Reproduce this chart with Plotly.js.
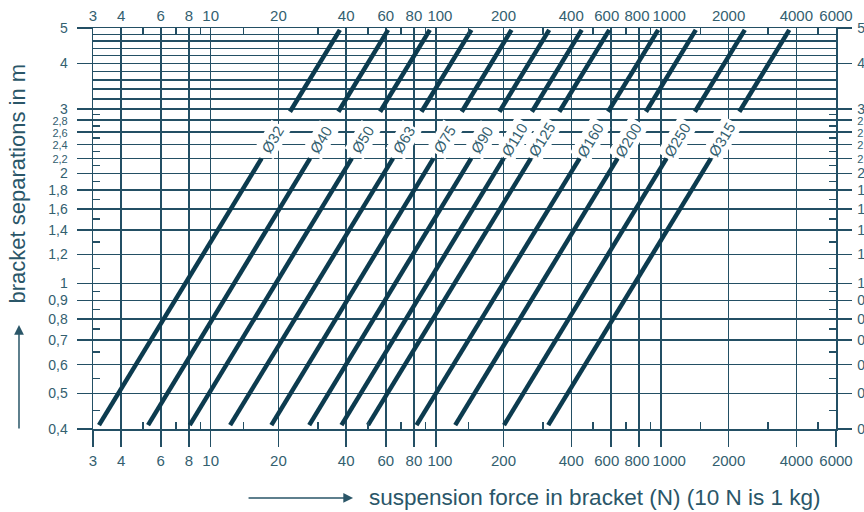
<!DOCTYPE html>
<html>
<head>
<meta charset="utf-8">
<script src="https://cdn.plot.ly/plotly-3.0.1.min.js"></script>
<style>html,body{margin:0;padding:0;background:#fff}#chart{width:864px;height:512px}</style>
</head>
<body>
<div id="chart"></div>
<script>
// ---- data ----
const diameters = ['Ø32','Ø40','Ø50','Ø63','Ø75','Ø90','Ø110','Ø125','Ø160','Ø200','Ø250','Ø315'];
// suspension force (N) where each line starts (bottom, at sepStart) and ends (top, at sepEnd)
const forceAtStart = [3.19, 5.27, 8.07, 12.2, 18.6, 27.4, 38.1, 50, 82.1, 122, 201, 316];
const forceAtEnd   = [37.5, 61.4, 94.1, 144, 217, 319, 445, 590, 973, 1430, 2360, 3720];
const sepStart = 0.41;   // m
const sepEnd = 4.94;     // m
const gapLow = 2.2;      // line interrupted between these separations (label band)
const gapHigh = 2.95;
const labelSep = 2.47;   // separation at which the labels sit

const xMajor = [3,4,6,8,10,20,40,60,80,100,200,400,600,800,1000,2000,4000,6000];
const NB = '&nbsp;';
const xMajorText = ['3','4','6','8','10','20','40','60','80', NB+NB+'100','200','400',
  '600'+NB+NB, '800'+NB, NB+NB+NB+NB+'1000','2000','4000','6000'];
const xMinor = [5,7,9,14,30,50,70,90,140,300,500,700,900,1500,3000,5000];

const yMajor = [0.4,0.5,0.6,0.7,0.8,0.9,1,1.2,1.4,1.6,1.8,2,2.2,2.4,2.6,2.8,3,4,5];
const small = s => '<span style="font-size:11px">' + s + '</span>';
const yMajorText = ['0,4','0,5','0,6','0,7','0,8','0,9','1','1,2','1,4','1,6','1,8','2',
  small('2,2'), small('2,4'), small('2,6'), small('2,8'), '3','4','5'];
const yExtraGrid = [3.2,3.4,3.6,3.8,4.2,4.4,4.6,4.8];
const yMinor = [0.45,0.55,0.65,0.75,0.85,0.95,1.1,1.3,1.5,1.7,1.9,2.1,2.3,2.5,2.7,2.9];

// ---- styling ----
const GRID = '#234f64';
const LINE = '#0c3b4f';
const TXT = '#33606f';
const FONT = 'Liberation Sans, Arial, Helvetica, sans-serif';

function forceAt(i, s) {
  const a = Math.log(sepStart), b = Math.log(sepEnd);
  const t = (Math.log(s) - a) / (b - a);
  return Math.exp(Math.log(forceAtStart[i]) + t * (Math.log(forceAtEnd[i]) - Math.log(forceAtStart[i])));
}

const traces = diameters.map((d, i) => ({
  type: 'scatter', mode: 'lines', name: d,
  x: [forceAt(i, sepStart), forceAt(i, gapLow), null, forceAt(i, gapHigh), forceAt(i, sepEnd)],
  y: [sepStart, gapLow, null, gapHigh, sepEnd],
  line: {color: LINE, width: 4.5},
  hoverinfo: 'skip', showlegend: false, xaxis: 'x', yaxis: 'y', connectgaps: false
}));
// transparent copies so the mirrored axes (top, right, extra grid) are drawn
traces.push(Object.assign({}, traces[0], {xaxis: 'x2', yaxis: 'y2', opacity: 0, name: 'top/right axes'}));
traces.push(Object.assign({}, traces[0], {xaxis: 'x', yaxis: 'y3', opacity: 0, name: 'extra grid'}));

const labels = diameters.map((d, i) => ({
  x: Math.log10(forceAt(i, labelSep)), y: Math.log10(labelSep), xref: 'x', yref: 'y',
  text: d, showarrow: false, textangle: -59,
  font: {family: FONT, size: 15, color: TXT},
  bgcolor: '#ffffff', borderpad: 2
}));

const tickFontX = {family: FONT, size: 15, color: TXT};
const tickFontY = {family: FONT, size: 14, color: TXT};
const xr = [Math.log10(3), Math.log10(6000)];
const yr = [Math.log10(0.4), Math.log10(5)];

const layout = {
  width: 864, height: 512,
  margin: {l: 93, r: 28, t: 28, b: 83, pad: 0},
  paper_bgcolor: '#ffffff', plot_bgcolor: '#ffffff',
  showlegend: false,
  xaxis: {
    type: 'log', range: xr, fixedrange: true, automargin: false, tickangle: 0,
    tickmode: 'array', tickvals: xMajor, ticktext: xMajorText,
    ticks: 'outside', ticklen: 16, tickwidth: 1.5, tickcolor: GRID,
    showgrid: true, gridcolor: GRID, gridwidth: 1.5,
    showline: true, linecolor: GRID, linewidth: 1.5,
    zeroline: false, tickfont: tickFontX, ticklabelstandoff: 1,
    minor: {tickmode: 'array', tickvals: xMinor, ticks: 'inside', ticklen: 7, tickwidth: 1.5, tickcolor: GRID, showgrid: false}
  },
  xaxis2: {
    type: 'log', range: xr, overlaying: 'x', side: 'top', anchor: 'y', fixedrange: true, automargin: false, tickangle: 0,
    tickmode: 'array', tickvals: xMajor, ticktext: xMajorText,
    ticks: '', showgrid: false, showline: true, linecolor: GRID, linewidth: 1.5,
    zeroline: false, tickfont: tickFontX, ticklabelstandoff: 0,
    minor: {tickmode: 'array', tickvals: xMinor, ticks: 'inside', ticklen: 7, tickwidth: 1.5, tickcolor: GRID, showgrid: false}
  },
  yaxis: {
    type: 'log', range: yr, fixedrange: true, automargin: false,
    tickmode: 'array', tickvals: yMajor, ticktext: yMajorText,
    ticks: 'outside', ticklen: 15, tickwidth: 1.5, tickcolor: GRID,
    showgrid: true, gridcolor: GRID, gridwidth: 1.5,
    showline: true, linecolor: GRID, linewidth: 1.5,
    zeroline: false, tickfont: tickFontY, ticklabelstandoff: 6,
    minor: {tickmode: 'array', tickvals: yMinor, ticks: 'inside', ticklen: 7, tickwidth: 1.5, tickcolor: GRID, showgrid: false}
  },
  yaxis2: {
    type: 'log', range: yr, overlaying: 'y', side: 'right', anchor: 'x', fixedrange: true, automargin: false,
    tickmode: 'array', tickvals: yMajor, ticktext: yMajorText,
    ticks: 'outside', ticklen: 14, tickwidth: 1.5, tickcolor: GRID,
    showgrid: false, showline: true, linecolor: GRID, linewidth: 1.5,
    zeroline: false, tickfont: tickFontY, ticklabelstandoff: 3,
    minor: {tickmode: 'array', tickvals: yMinor, ticks: 'inside', ticklen: 7, tickwidth: 1.5, tickcolor: GRID, showgrid: false}
  },
  yaxis3: {
    type: 'log', range: yr, overlaying: 'y', side: 'left', anchor: 'x', fixedrange: true, automargin: false,
    tickmode: 'array', tickvals: yExtraGrid, showticklabels: false, ticks: '',
    showgrid: true, gridcolor: GRID, gridwidth: 1.5, showline: false, zeroline: false
  },
  annotations: labels.concat([
    {xref: 'paper', yref: 'paper', x: -0.101, y: 0.612, text: 'bracket separations in m',
     textangle: -90, showarrow: false, xanchor: 'center', yanchor: 'middle',
     font: {family: FONT, size: 22, color: '#2a5668'}},
    {xref: 'paper', yref: 'paper', x: 0.6756, y: -0.1696, text: 'suspension force in bracket (N) (10 N is 1 kg)',
     showarrow: false, xanchor: 'center', yanchor: 'middle',
     font: {family: FONT, size: 22.5, color: '#2a5668'}},
    {xref: 'paper', yref: 'paper', x: -0.0996, y: 0.2594, text: '', showarrow: true,
     ax: 0, ay: 105, axref: 'pixel', ayref: 'pixel', arrowhead: 2, arrowsize: 1.3, arrowwidth: 1.5, arrowcolor: '#2a5668', standoff: 0},
    {xref: 'paper', yref: 'paper', x: 0.35, y: -0.172, text: '', showarrow: true,
     ax: -106, ay: 0, axref: 'pixel', ayref: 'pixel', arrowhead: 2, arrowsize: 1.3, arrowwidth: 1.5, arrowcolor: '#2a5668', standoff: 0}
  ])
};

Plotly.newPlot('chart', traces, layout, {staticPlot: true, displayModeBar: false});
</script>
</body>
</html>
